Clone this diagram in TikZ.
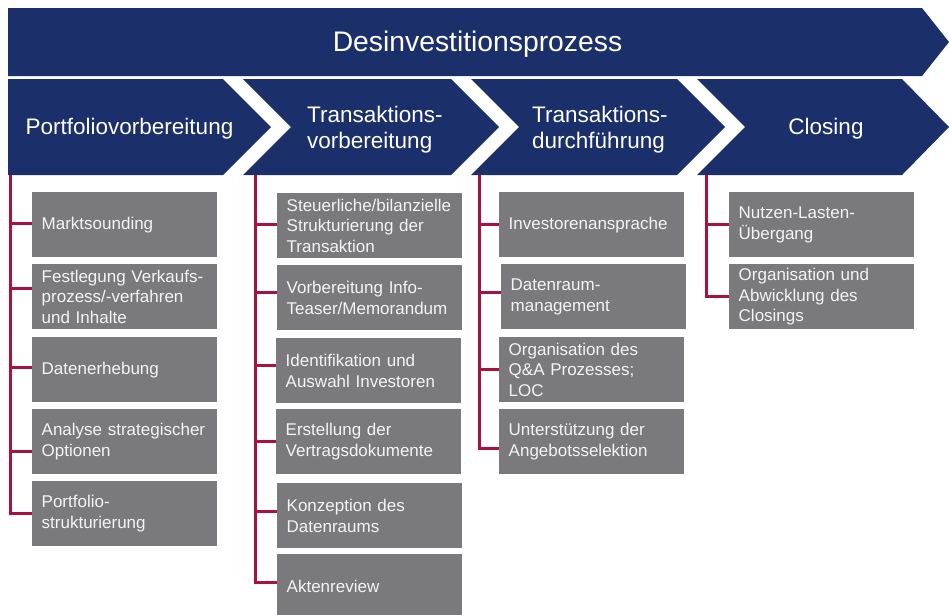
\documentclass[tikz,border=0pt]{standalone}
\usepackage{fontspec}
\setmainfont{Liberation Sans}
\definecolor{navy}{HTML}{1B2F6B}
\definecolor{boxgray}{HTML}{7A7A7C}
\definecolor{crimson}{HTML}{A7123F}
\definecolor{boxtext}{HTML}{F4F4F4}
\hyphenpenalty=10000
\exhyphenpenalty=10000
\begin{document}
\begin{tikzpicture}[x=1pt,y=-1pt,
  chev/.style={fill=navy},
  head/.style={text=white, inner sep=0pt, font=\fontsize{28.3}{33}\selectfont},
  chevtext/.style={text=white, inner sep=0pt, align=left, font=\fontsize{22.5}{26}\selectfont},
  box/.style={fill=boxgray, text=boxtext, anchor=north west, minimum height=65pt,
    text width=166pt, inner xsep=9.5pt, inner ysep=0pt, align=left,
    font=\fontsize{17}{20.5}\selectfont},
  conn/.style={draw=crimson, line width=3pt}]
\useasboundingbox (0,0) rectangle (949,614);

% top banner
\fill[chev] (8,8) -- (922,8) -- (949,42) -- (922,76) -- (8,76) -- cycle;
\node[head, anchor=base] (title) at (477.5,51) {Desinvestitionsprozess};

% chevrons
\fill[chev] (8,79) -- (223,79) -- (271,127) -- (223,175) -- (8,175) -- cycle;
\fill[chev] (243,79) -- (451,79) -- (499,127) -- (451,175) -- (243,175) -- (291,127) -- cycle;
\fill[chev] (471,79) -- (677,79) -- (725,127) -- (677,175) -- (471,175) -- (519,127) -- cycle;
\fill[chev] (697,79) -- (902,79) -- (949,127) -- (902,175) -- (697,175) -- (745,127) -- cycle;

\node[chevtext, anchor=base] (p1) at (129.5,134) {Portfoliovorbereitung};
\node[chevtext, anchor=west] (p2) at (307,130) {Transaktions-\\vorbereitung};
\node[chevtext, anchor=west] (p3) at (532,130) {Transaktions-\\durchführung};
\node[chevtext, anchor=base] (p4) at (826,134) {Closing};

\coordinate (c1) at (10,175);
\coordinate (c2) at (255,175);
\coordinate (c3) at (479,175);
\coordinate (c4) at (706,175);

% column 1
\node[box] (b11) at (32,192) {Marktsounding};
\node[box] (b12) at (32,264) {Festlegung Verkaufs-\\prozess/-verfahren\\und Inhalte};
\node[box] (b13) at (32,337) {Datenerhebung};
\node[box] (b14) at (32,409) {Analyse strategischer\\Optionen};
\node[box] (b15) at (32,481) {Portfolio-\\strukturierung};

% column 2
\node[box] (b21) at (277,193) {Steuerliche/bilanzielle\\Strukturierung der\\Transaktion};
\node[box] (b22) at (277,265) {Vorbereitung Info-\\Teaser/Memorandum};
\node[box] (b23) at (276,338) {Identifikation und\\Auswahl Investoren};
\node[box] (b24) at (276,409) {Erstellung der\\Vertragsdokumente};
\node[box] (b25) at (277,483) {Konzeption des\\Datenraums};
\node[box] (b26) at (277,554) {Aktenreview};

% column 3
\node[box] (b31) at (499,192) {Investorenansprache};
\node[box] (b32) at (501,264) {Datenraum-\\management};
\node[box] (b33) at (499,337) {Organisation des\\Q\&A Prozesses;\\LOC};
\node[box] (b34) at (499,409) {Unterstützung der\\Angebotsselektion};

% column 4
\node[box] (b41) at (729,192) {Nutzen-Lasten-\\Übergang};
\node[box] (b42) at (729,264) {Organisation und\\Abwicklung des\\Closings};

% connectors
\draw[conn] ([yshift=0pt]b15.west) -| (c1);
\draw[conn] ([yshift=-9.5pt]b14.west) -| (c1);
\draw[conn] ([yshift=2.5pt]b13.west) -| (c1);
\draw[conn] ([yshift=8.5pt]b12.west) -| (c1);
\draw[conn] ([yshift=1.5pt]b11.west) -| (c1);

\draw[conn] ([yshift=4.5pt]b26.west) -| (c2);
\draw[conn] ([yshift=4.5pt]b25.west) -| (c2);
\draw[conn] ([yshift=0.5pt]b24.west) -| (c2);
\draw[conn] ([yshift=5pt]b23.west) -| (c2);
\draw[conn] ([yshift=5pt]b22.west) -| (c2);
\draw[conn] ([yshift=1.5pt]b21.west) -| (c2);

\draw[conn] ([yshift=-6.5pt]b34.west) -| (c3);
\draw[conn] ([yshift=0.5pt]b33.west) -| (c3);
\draw[conn] ([yshift=4.5pt]b32.west) -| (c3);
\draw[conn] ([yshift=0.5pt]b31.west) -| (c3);

\draw[conn] (b42.west) -| (c4);
\draw[conn] (b41.west) -| (c4);
\end{tikzpicture}
\end{document}
